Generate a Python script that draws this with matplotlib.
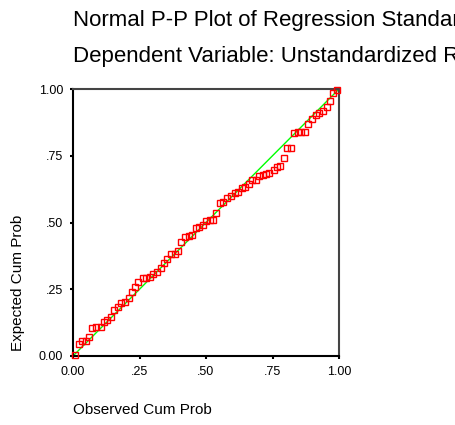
import matplotlib
matplotlib.use("Agg")
import matplotlib.pyplot as plt

plt.rcParams['font.family'] = ['Liberation Sans', 'DejaVu Sans']

# observed vs expected cumulative probabilities
observed = [0.009, 0.021, 0.035, 0.0475, 0.061, 0.0725, 0.0875, 0.104, 0.116, 0.129,
            0.144, 0.155, 0.169, 0.181, 0.194, 0.209, 0.221, 0.2325, 0.246, 0.2625,
            0.275, 0.29, 0.3025, 0.315, 0.329, 0.341, 0.354, 0.369, 0.3825, 0.394,
            0.406, 0.421, 0.436, 0.449, 0.461, 0.474, 0.4875, 0.5, 0.514, 0.526,
            0.539, 0.551, 0.565, 0.579, 0.595, 0.6075, 0.621, 0.634, 0.646, 0.66,
            0.674, 0.6875, 0.7, 0.7125, 0.725, 0.7375, 0.754, 0.7675, 0.78, 0.794,
            0.806, 0.82, 0.8325, 0.845, 0.859, 0.871, 0.884, 0.8975, 0.9125, 0.926,
            0.94, 0.954, 0.966, 0.979, 0.9925]
expected = [0.0025, 0.044, 0.056, 0.056, 0.0725, 0.104, 0.1075, 0.1075, 0.126, 0.135,
            0.1475, 0.1725, 0.185, 0.2, 0.2025, 0.216, 0.241, 0.259, 0.2775, 0.294,
            0.294, 0.2975, 0.306, 0.316, 0.329, 0.35, 0.3625, 0.3825, 0.3825, 0.394,
            0.4275, 0.4475, 0.45, 0.455, 0.481, 0.485, 0.489, 0.505, 0.5075, 0.51,
            0.535, 0.574, 0.575, 0.591, 0.5975, 0.61, 0.614, 0.629, 0.634, 0.646,
            0.6575, 0.6575, 0.6725, 0.6775, 0.6825, 0.685, 0.695, 0.7075, 0.7125, 0.7425,
            0.7775, 0.78, 0.834, 0.8375, 0.839, 0.84, 0.869, 0.8875, 0.9025, 0.911,
            0.919, 0.9325, 0.954, 0.984, 0.9975]

ticks = [0, 0.25, 0.5, 0.75, 1.0]
tick_labels = ['0.00', '.25', '.50', '.75', '1.00']

W, H = 455, 425
fig = plt.figure(figsize=(W / 100, H / 100), dpi=100)
ax = fig.add_axes([73 / W, (H - 356) / H, 266 / W, 267 / H])

ax.plot([0, 1], [0, 1], color='#00ff00', lw=1.0, zorder=2)
ax.plot(observed, expected, 's', mfc='none', mec='red', ms=4.8, mew=1.0,
        clip_on=False, zorder=3)

ax.set_xlim(0, 1)
ax.set_ylim(0, 1)
ax.set_xticks(ticks)
ax.set_xticklabels(tick_labels)
ax.set_yticks(ticks)
ax.set_yticklabels(tick_labels)
ax.tick_params(length=2, width=1.5, direction='out', labelsize=9, pad=5)
for s in ['left', 'bottom']:
    ax.spines[s].set_linewidth(1.5)
for s in ['top', 'right']:
    ax.spines[s].set_linewidth(1.5)
    ax.spines[s].set_color('#444444')

# the titles run past the right edge, as in the original
fig.text(73 / W, 1 - 26 / H, 'Normal P-P Plot of Regression Standardized Residual',
         fontsize=16, va='baseline', ha='left')
fig.text(73 / W, 1 - 62 / H, 'Dependent Variable: Unstandardized Residual',
         fontsize=16, va='baseline', ha='left')
fig.text(73 / W, 1 - 414 / H, 'Observed Cum Prob', fontsize=11,
         va='baseline', ha='left')
fig.text(18 / W, 1 - 351 / H, 'Expected Cum Prob', fontsize=11,
         rotation=90, va='bottom', ha='center')

fig.savefig('out.png', dpi=100)
